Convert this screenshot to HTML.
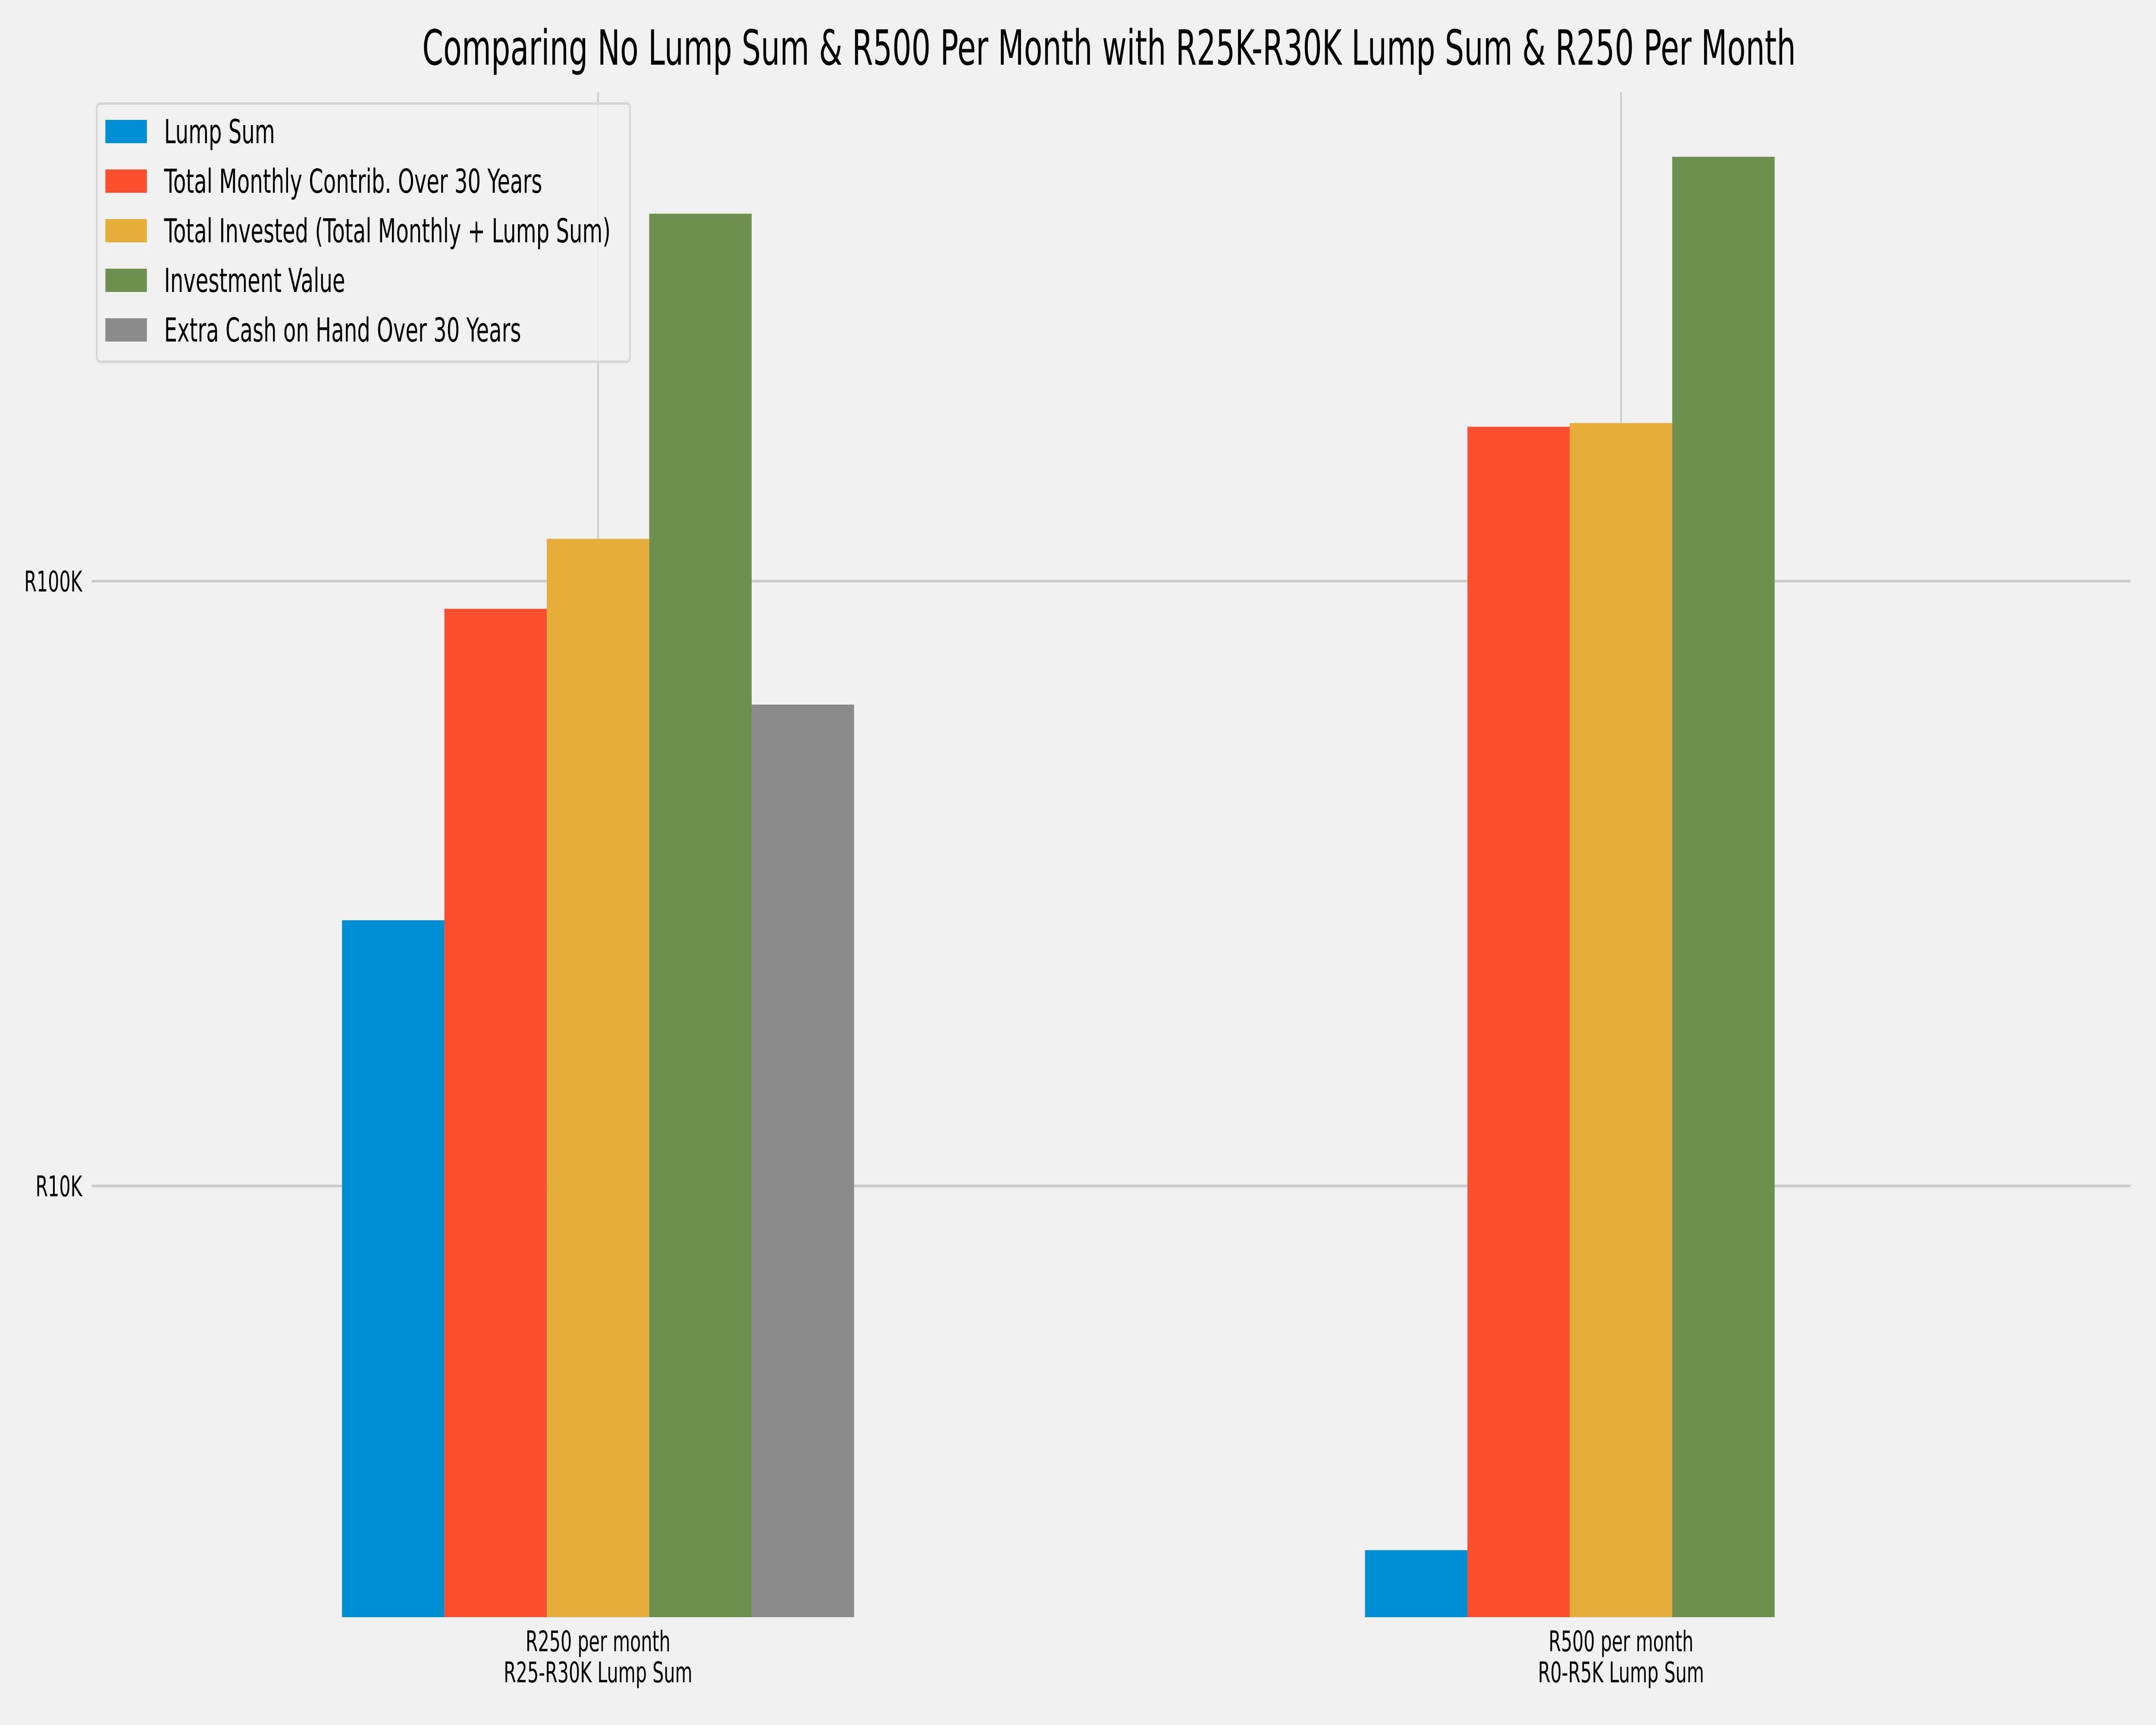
<!DOCTYPE html>
<html><head><meta charset="utf-8"><style>
html,body{margin:0;padding:0;background:#f0f0f0;width:100%;height:100%;overflow:hidden;}
svg{display:block;width:100vw;height:100vh;font-family:"DejaVu Sans","Liberation Sans",sans-serif;}
</style></head><body>
<svg id="chart" viewBox="0 0 8000 4000" preserveAspectRatio="none" xmlns="http://www.w3.org/2000/svg">
<rect x="0" y="0" width="8000" height="4000" fill="#f0f0f0"/>
<text x="4115" y="150" font-size="112" text-anchor="middle" fill="#000">Comparing No Lump Sum &amp; R500 Per Month with R25K-R30K Lump Sum &amp; R250 Per Month</text>
<g id="grid"></g>
<g id="bars"></g>
<g id="ticks"></g>
<g id="legend"></g>
</svg>
<script>
const categories = ["R250 per month\nR25-R30K Lump Sum", "R500 per month\nR0-R5K Lump Sum"];
const seriesNames = ["Lump Sum", "Total Monthly Contrib. Over 30 Years", "Total Invested (Total Monthly + Lump Sum)", "Investment Value", "Extra Cash on Hand Over 30 Years"];
const lumpSum = [27500, 2500];
const monthlyTotal = [90000, 180000];
const totalInvested = [117500, 182500];
const investmentValue = [405000, 503000];
const extraCash = [62500, 0];
const yTickValues = [10000, 100000];
const yTickLabels = ["R10K", "R100K"];

const series = [lumpSum, monthlyTotal, totalInvested, investmentValue, extraCash];
const colors = ["#008fd5", "#fc4f30", "#e5ae38", "#6d904f", "#8b8b8b"];
const NS = "http://www.w3.org/2000/svg";
const plotL = 340, plotR = 7905, plotT = 214, plotB = 3750;
const yMin = 1937, yMax = 643000;
function yScale(v){ const lv=Math.log10(v), a=Math.log10(yMin), b=Math.log10(yMax); return plotB - (lv-a)/(b-a)*(plotB-plotT); }
const groupStart = 2219, groupStep = 3796, barW = 380;
function xCenter(i){ return groupStart + i*groupStep; }
function mk(tag, attrs, parent){ const e=document.createElementNS(NS,tag); for(const k in attrs) e.setAttribute(k, attrs[k]); parent.appendChild(e); return e; }

const grid=document.getElementById('grid'), barsG=document.getElementById('bars'), ticks=document.getElementById('ticks'), legend=document.getElementById('legend');
yTickValues.forEach((v,i)=>{
  const y=yScale(v);
  const l=mk('line',{x1:plotL,x2:plotR,y1:y,y2:y,stroke:'#cbcbcb','stroke-width':6},grid);
  
  
  const t=mk('text',{x:305,y:y+24,'font-size':66,'text-anchor':'end',fill:'#000'},ticks);
  t.textContent=yTickLabels[i];
  
  
});
categories.forEach((c,i)=>{
  const x=xCenter(i);
  const l=mk('line',{x1:x,x2:x,y1:plotT,y2:plotB,stroke:'#cbcbcb','stroke-width':6},grid);
  
  
  c.split('\n').forEach((line,j)=>{
    const t=mk('text',{x:x,y:3829+j*72,'font-size':66,'text-anchor':'middle',fill:'#000'},ticks);
    t.textContent=line;
    
    
  });
});
series.forEach((vals,s)=>{
  vals.forEach((v,i)=>{
    if(!(v>0)) return;
    const x=xCenter(i)+(s-2)*barW-barW/2;
    const yt=Math.max(yScale(v),plotT), yb=plotB;
    const r=mk('rect',{x:x,y:yt,width:barW,height:Math.max(0,yb-yt),fill:colors[s]},barsG);
    
    
  });
});
const lb=mk('rect',{x:359,y:240,width:1979,height:599,rx:12,fill:'#f0f0f0',stroke:'#d6d6d6','stroke-width':6,'fill-opacity':0.85},legend);


seriesNames.forEach((n,s)=>{
  const cy=305+s*115;
  const sw=mk('rect',{x:391,y:cy-27,width:154,height:54,fill:colors[s]},legend);
  
  
  const t=mk('text',{x:609,y:cy+27,'font-size':77,fill:'#000'},legend);
  t.textContent=n;
  
  
});
</script>
</body></html>
